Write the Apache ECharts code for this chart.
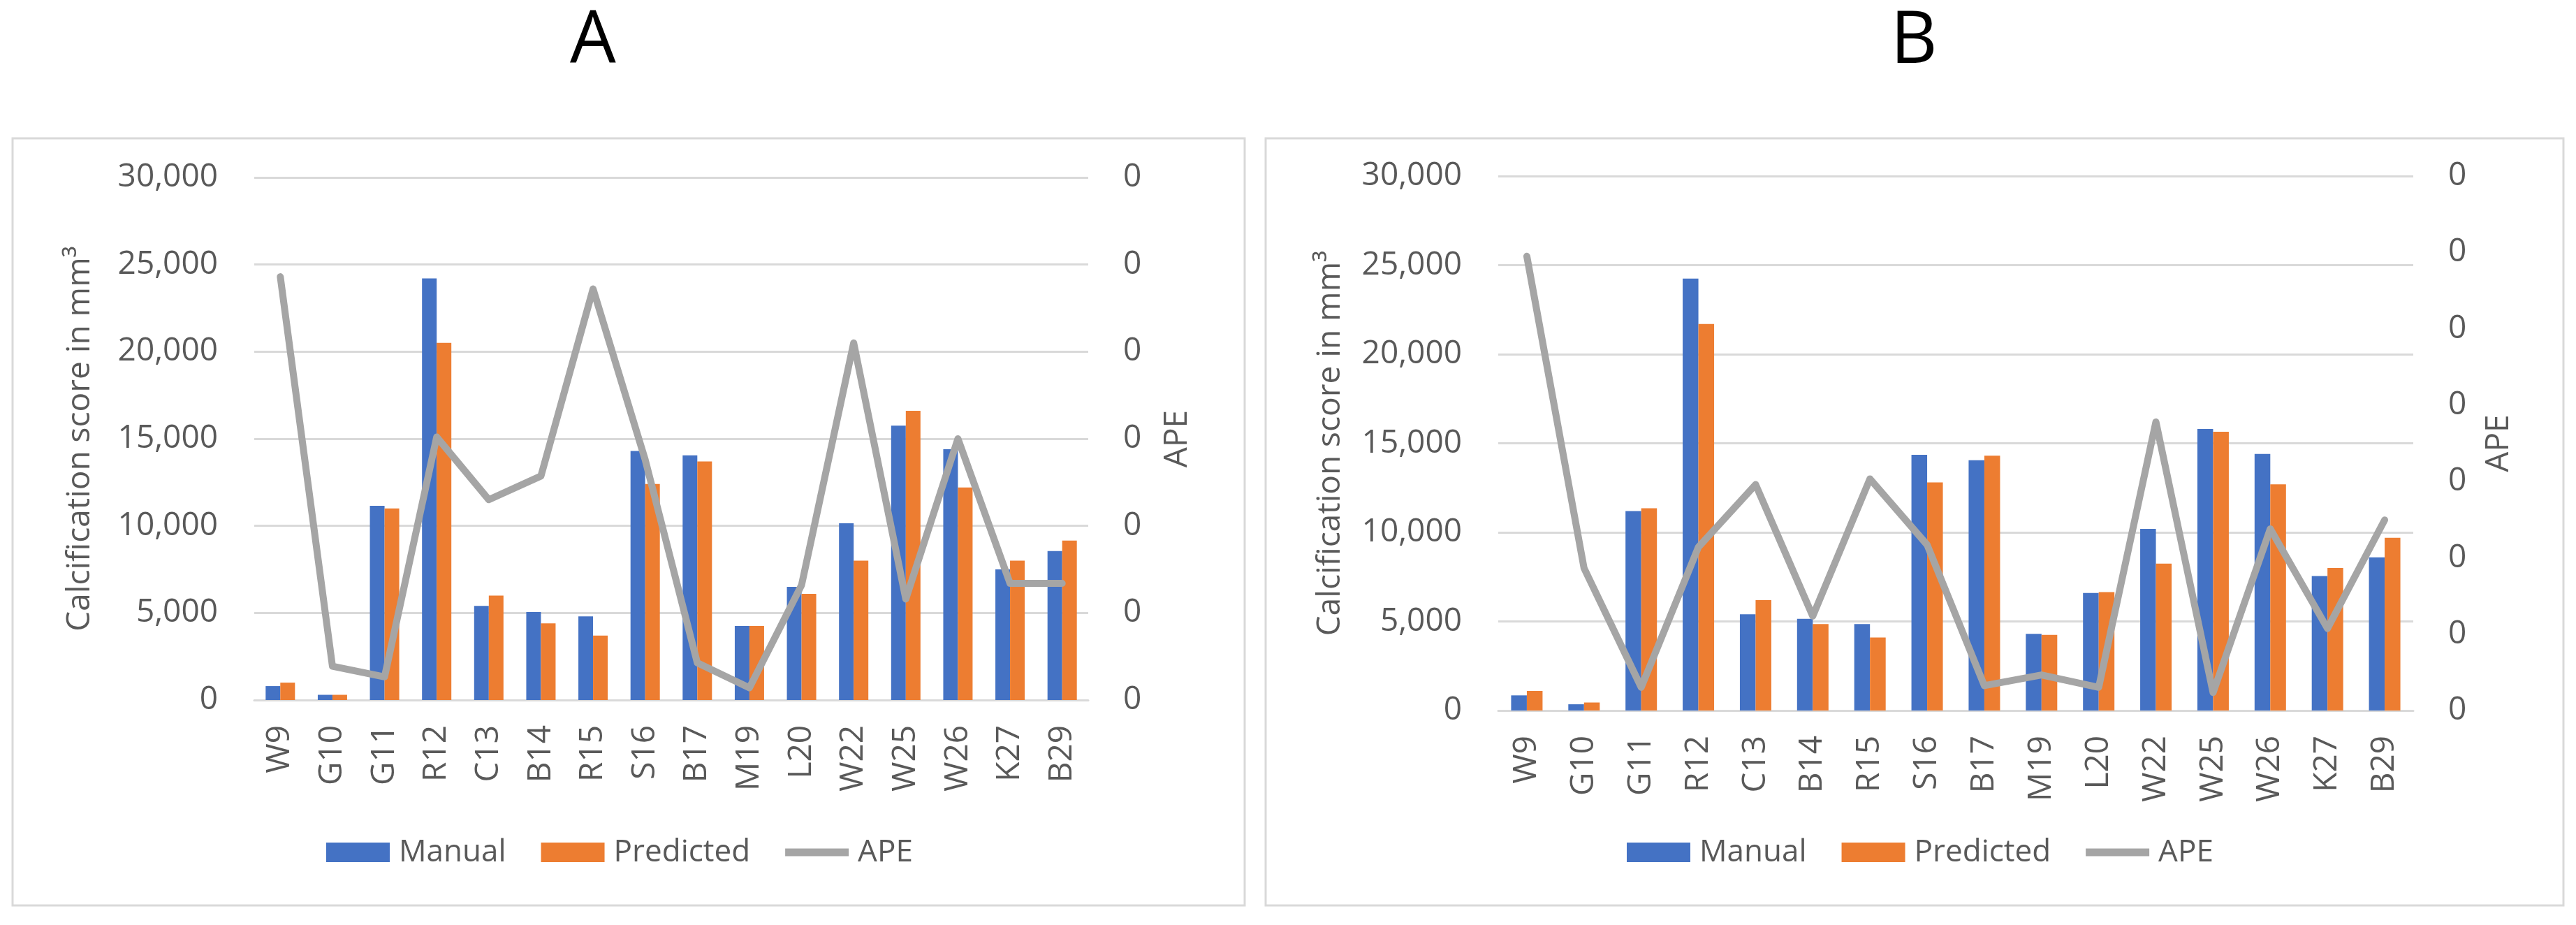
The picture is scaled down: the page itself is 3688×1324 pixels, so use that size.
<!DOCTYPE html>
<html>
<head>
<meta charset="utf-8">
<script src="https://cdn.jsdelivr.net/npm/echarts@6/dist/echarts.min.js"></script>
<style>
html,body{margin:0;padding:0;background:#fff;}
#chart{width:3688px;height:1324px;}
</style>
</head>
<body>
<div id="chart"></div>
<script>
// ---- Data ----
const categories = ['W9','G10','G11','R12','C13','B14','R15','S16','B17','M19','L20','W22','W25','W26','K27','B29'];

const manualA    = [800, 300, 11150, 24200, 5400, 5050, 4800, 14300, 14050, 4250, 6500, 10150, 15750, 14400, 7500, 8550];
const predictedA = [1000, 300, 11000, 20500, 6000, 4400, 3700, 12400, 13700, 4250, 6100, 8000, 16600, 12200, 8000, 9150];
const apeA       = [0.243, 0.0194, 0.0133, 0.151, 0.115, 0.1286, 0.236, 0.138, 0.0214, 0.007, 0.066, 0.205, 0.058, 0.15, 0.067, 0.067];

const manualB    = [850, 350, 11200, 24250, 5400, 5150, 4850, 14350, 14050, 4300, 6600, 10200, 15800, 14400, 7550, 8600];
const predictedB = [1100, 450, 11350, 21700, 6200, 4850, 4100, 12800, 14300, 4250, 6650, 8250, 15650, 12700, 8000, 9700];
const apeB       = [0.2975, 0.0933, 0.0152, 0.107, 0.148, 0.0618, 0.1517, 0.1085, 0.0163, 0.0233, 0.0152, 0.189, 0.0117, 0.119, 0.0537, 0.1248];

const panelTitles = ['A', 'B'];
const seriesNames = ['Manual', 'Predicted', 'APE'];
const leftAxisName = 'Calcification score in mm\u00B3';
const rightAxisName = 'APE';

// ---- Styles ----
const BLUE = '#4472C4', ORANGE = '#ED7D31', GRAY = '#A5A5A5';
const TXT = '#595959', GRID = '#D9D9D9';
const FONT = "'Open Sans', 'Noto Sans', sans-serif";
// thick line legend icon: bar in the middle of a 91x28 box (corner slivers keep the box size)
const LINE_ICON = 'path://M0,0L0.5,0L0.5,0.01Z M0,8.5L91,8.5L91,19.5L0,19.5Z M90.5,28L91,28L91,27.99Z';

const chart = echarts.init(document.getElementById('chart'), null, {renderer: 'canvas'});

function xAxisCfg(gridIndex) {
  return {
    type: 'category', gridIndex, data: categories,
    axisLine: {show: true, lineStyle: {color: GRID, width: 3}},
    axisTick: {show: false},
    axisLabel: {rotate: 90, margin: 36, color: TXT, fontSize: 46, fontFamily: FONT, interval: 0}
  };
}
function leftAxisCfg(gridIndex, nameGap) {
  return {
    type: 'value', gridIndex, min: 0, max: 30000, interval: 5000,
    name: leftAxisName, nameLocation: 'middle', nameGap, nameRotate: 90,
    nameTextStyle: {color: TXT, fontSize: 46, fontFamily: FONT},
    axisLine: {show: false}, axisTick: {show: false},
    axisLabel: {margin: 52, color: TXT, fontSize: 46, fontFamily: FONT,
      formatter: v => v.toLocaleString('en-US')},
    splitLine: {show: true, lineStyle: {color: GRID, width: 3}}
  };
}
function rightAxisCfg(gridIndex, max, nameGap) {
  return {
    type: 'value', gridIndex, position: 'right', min: 0, max, interval: 0.05,
    name: rightAxisName, nameLocation: 'middle', nameGap, nameRotate: 90,
    nameTextStyle: {color: TXT, fontSize: 46, fontFamily: FONT},
    axisLine: {show: false}, axisTick: {show: false},
    axisLabel: {margin: 50, color: TXT, fontSize: 46, fontFamily: FONT,
      formatter: v => String(Math.round(v))},
    splitLine: {show: false}
  };
}
function barSeries(name, data, color, xi, yi, w) {
  return {name, type: 'bar', data, xAxisIndex: xi, yAxisIndex: yi, barWidth: w, barGap: '0%',
    itemStyle: {color}, emphasis: {disabled: true}};
}
function lineSeries(name, data, xi, yi) {
  return {name, type: 'line', data, xAxisIndex: xi, yAxisIndex: yi, symbol: 'none', z: 5,
    lineStyle: {color: GRAY, width: 10, cap: 'round', join: 'round'}, itemStyle: {color: GRAY},
    emphasis: {disabled: true}};
}
function legendCfg(left) {
  return {
    left, top: 1193, itemWidth: 91, itemHeight: 28, itemGap: 50,
    textStyle: {color: TXT, fontSize: 44, fontFamily: FONT, padding: [0, 0, 0, 8]},
    data: [
      {name: seriesNames[0], icon: 'rect'},
      {name: seriesNames[1], icon: 'rect'},
      {name: seriesNames[2], icon: LINE_ICON, itemStyle: {color: GRAY}}
    ],
    selectedMode: false
  };
}

const option = {
  backgroundColor: '#fff',
  animation: false,
  graphic: [
    {type: 'rect', shape: {x: 18, y: 198, width: 1764, height: 1098}, style: {fill: 'none', stroke: GRID, lineWidth: 3}, silent: true},
    {type: 'rect', shape: {x: 1812, y: 198, width: 1858, height: 1098}, style: {fill: 'none', stroke: GRID, lineWidth: 3}, silent: true},
    {type: 'text', x: 849, y: 60, style: {text: panelTitles[0], fill: '#000', fontSize: 104, fontFamily: FONT, align: 'center', verticalAlign: 'middle'}, silent: true},
    {type: 'text', x: 2740, y: 60, style: {text: panelTitles[1], fill: '#000', fontSize: 104, fontFamily: FONT, align: 'center', verticalAlign: 'middle'}, silent: true}
  ],
  grid: [
    {left: 364, top: 254, width: 1194, height: 748, containLabel: false},
    {left: 2145, top: 252, width: 1310, height: 765, containLabel: false}
  ],
  legend: [legendCfg(462), legendCfg(2324)],
  xAxis: [xAxisCfg(0), xAxisCfg(1)],
  yAxis: [leftAxisCfg(0, 226), rightAxisCfg(0, 0.3, 105), leftAxisCfg(1, 217), rightAxisCfg(1, 0.35, 100)],
  series: [
    barSeries(seriesNames[0], manualA, BLUE, 0, 0, 21),
    barSeries(seriesNames[1], predictedA, ORANGE, 0, 0, 21),
    lineSeries(seriesNames[2], apeA, 0, 1),
    barSeries(seriesNames[0], manualB, BLUE, 1, 2, 22.5),
    barSeries(seriesNames[1], predictedB, ORANGE, 1, 2, 22.5),
    lineSeries(seriesNames[2], apeB, 1, 3)
  ]
};
chart.setOption(option);
</script>
</body>
</html>
